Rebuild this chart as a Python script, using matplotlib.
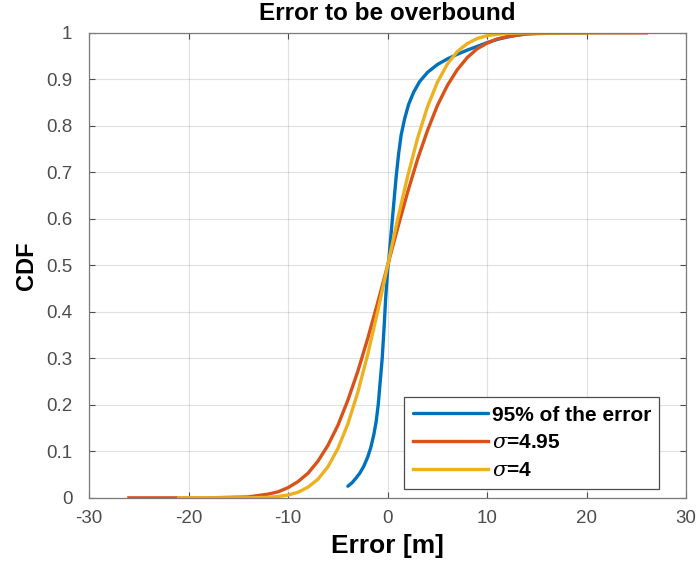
import matplotlib
matplotlib.use('Agg')
import matplotlib.pyplot as plt

plt.rcParams.update({
    'font.family': ['Liberation Sans', 'DejaVu Sans'],
    'mathtext.fontset': 'dejavuserif',
})

# ── Data ─────────────────────────────────────────────────────────────
# 95% of the error (empirical curve)
err_x = [-4.0, -3.6, -3.2, -2.8, -2.4, -2.0, -1.7, -1.4, -1.15, -0.95, -0.75, -0.55,
         -0.35, -0.2, 0.0, 0.15, 0.35, 0.6, 0.85, 1.1, 1.35, 1.7, 2.1, 2.6, 3.2,
         4.0, 5.0, 6.0, 7.0, 8.0, 9.0, 10.0, 11.0, 12.0, 13.0, 14.0, 16.0, 20.0]
err_y = [0.025, 0.032, 0.042, 0.053, 0.068, 0.088, 0.108, 0.135, 0.165, 0.200, 0.250, 0.300,
         0.370, 0.430, 0.490, 0.520, 0.570, 0.630, 0.690, 0.740, 0.780, 0.815, 0.846, 0.872, 0.895,
         0.915, 0.932, 0.944, 0.954, 0.963, 0.971, 0.979, 0.986, 0.991, 0.995, 0.998, 1.000, 1.000]

# sigma = 4.95 overbound
s495_x = [-26, -22, -18, -16, -14, -12, -11, -10, -9, -8, -7, -6, -5, -4, -3, -2, -1, 0,
          1, 2, 3, 4, 5, 6, 7, 8, 9, 10, 11, 12, 14, 16, 18, 22, 26]
s495_y = [0.000, 0.000, 0.000, 0.001, 0.002, 0.008, 0.013, 0.022, 0.035, 0.053, 0.079,
          0.113, 0.156, 0.210, 0.272, 0.343, 0.420, 0.500, 0.580, 0.657, 0.728, 0.790,
          0.844, 0.887, 0.921, 0.947, 0.966, 0.978, 0.987, 0.992, 0.998, 0.999, 1.000,
          1.000, 1.000]

# sigma = 4 overbound
s4_x = [-21, -18, -16, -14, -12, -11, -10, -9, -8, -7, -6, -5, -4, -3, -2, -1, 0,
        1, 2, 3, 4, 5, 6, 7, 8, 9, 10, 11, 12, 14, 16, 18, 21]
s4_y = [0.000, 0.000, 0.000, 0.000, 0.001, 0.003, 0.006, 0.012, 0.023, 0.040, 0.067,
        0.106, 0.159, 0.227, 0.309, 0.401, 0.500, 0.599, 0.691, 0.773, 0.841, 0.894,
        0.933, 0.960, 0.977, 0.988, 0.994, 0.997, 0.999, 1.000, 1.000, 1.000, 1.000]

x_ticks = [-30, -20, -10, 0, 10, 20, 30]
y_ticks = [0, 0.1, 0.2, 0.3, 0.4, 0.5, 0.6, 0.7, 0.8, 0.9, 1]
y_ticklabels = ['0', '0.1', '0.2', '0.3', '0.4', '0.5', '0.6', '0.7', '0.8', '0.9', '1']

c_blue, c_red, c_yel = '#0072BD', '#D95319', '#EDB120'

fig = plt.figure(figsize=(6.96, 5.67), dpi=100)
ax = fig.add_axes([0.128, 0.122, 0.858, 0.820])

ax.plot(err_x, err_y, color=c_blue, lw=2.4, label='95% of the error', solid_capstyle='round')
ax.plot(s495_x, s495_y, color=c_red, lw=2.4, label=r'$\sigma$=4.95')
ax.plot(s4_x, s4_y, color=c_yel, lw=2.4, label=r'$\sigma$=4')

ax.set_xlim(-30, 30)
ax.set_ylim(0, 1)
ax.set_xticks(x_ticks)
ax.set_xticklabels([str(v) for v in x_ticks])
ax.set_yticks(y_ticks)
ax.set_yticklabels(y_ticklabels)
ax.grid(True, color='#000000', alpha=0.12, lw=0.8)
ax.tick_params(direction='in', top=True, right=True, length=4, width=0.8,
               labelsize=13.5, colors='#4d4d4d', pad=9)
ax.tick_params(axis='y', pad=12)
for s in ax.spines.values():
    s.set_color('#7a7a7a')
    s.set_linewidth(0.9)

ax.set_title('Error to be overbound', fontsize=17.5, fontweight='bold', pad=9)
ax.set_xlabel('Error [m]', fontsize=19, fontweight='bold', labelpad=5)
ax.set_ylabel('CDF', fontsize=17, fontweight='bold', labelpad=6)

leg = ax.legend(loc='lower right', bbox_to_anchor=(0.955, 0.02),
                prop={'weight': 'bold', 'size': 15},
                frameon=True, fancybox=False, handlelength=3.6, handletextpad=0.2,
                borderpad=0.4, labelspacing=0.42, borderaxespad=0.0)
leg.get_frame().set_edgecolor('#4d4d4d')
leg.get_frame().set_linewidth(0.9)
leg.get_frame().set_alpha(1.0)

fig.savefig('out.png', dpi=100)
